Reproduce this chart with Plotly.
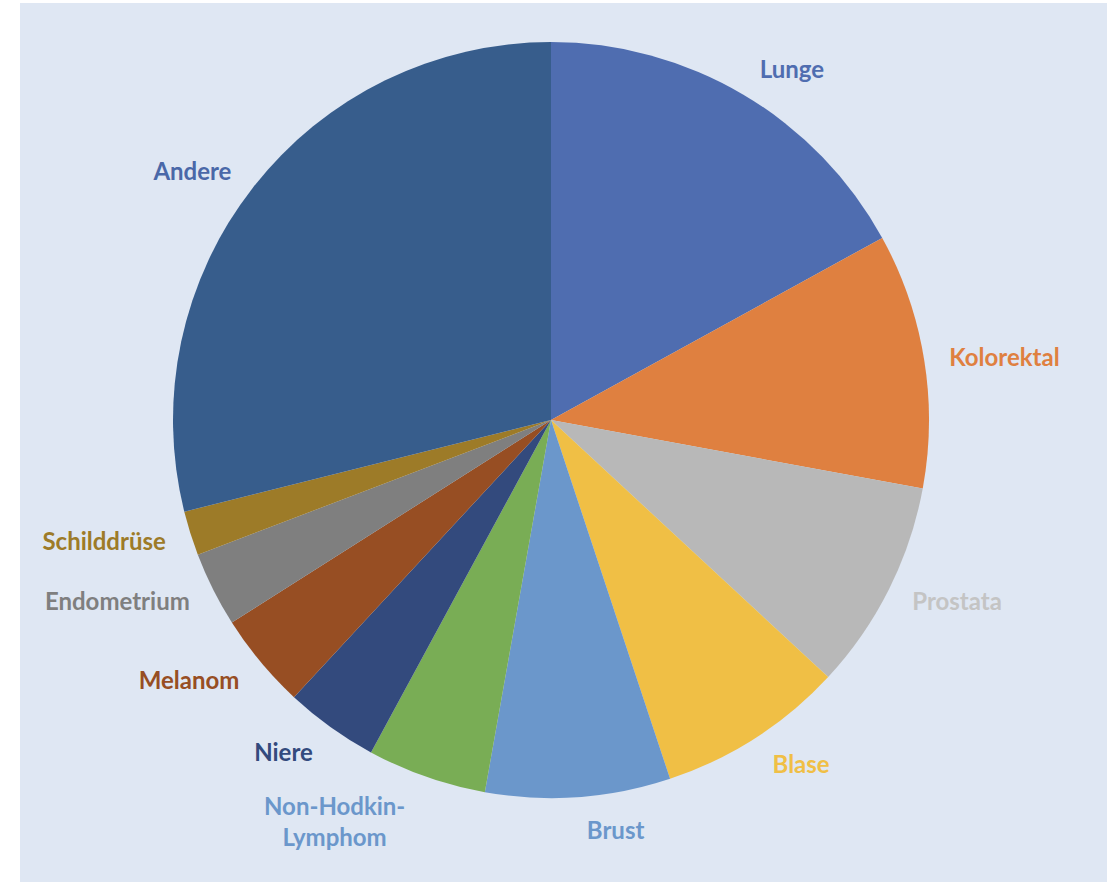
import plotly.graph_objects as go

labels = ["Lunge", "Kolorektal", "Prostata", "Blase", "Brust", "Non-Hodkin-<br>Lymphom",
          "Niere", "Melanom", "Endometrium", "Schilddrüse", "Andere"]
values = [17.0, 10.9, 9.0, 8.0, 7.9, 5.1, 4.0, 4.1, 3.2, 1.9, 28.9]
colors = ["#4f6db0", "#df8040", "#b8b8b8", "#f0bf45", "#6b97cb", "#79ad55",
          "#334a7d", "#974e23", "#7f7f7f", "#9d7b28", "#375d8c"]
text_colors = ["#4f6db0", "#df8040", "#c4c4c4", "#f0bf45", "#6b97cb", "#6b97cb",
               "#334a7d", "#974e23", "#7f7f7f", "#9d7b28", "#4a68a8"]

W, H = 1107, 882
cx, cy, R = 551, 420, 378
R_LABEL = R + 18


def dom(r):
    return dict(x=[(cx - r) / W, (cx + r) / W], y=[(H - cy - r) / H, (H - cy + r) / H])


fig = go.Figure()
# visible pie
fig.add_trace(go.Pie(
    labels=labels, values=values, sort=False, direction="clockwise", rotation=0,
    marker=dict(colors=colors, line=dict(width=0)),
    textinfo="none", automargin=False, showlegend=False,
    hoverinfo="label+percent", domain=dom(R),
))
# label carrier (transparent, slightly larger) to push outside labels outward
fig.add_trace(go.Pie(
    labels=labels, values=values, sort=False, direction="clockwise", rotation=0,
    marker=dict(colors=["rgba(0,0,0,0)"] * len(values), line=dict(width=0)),
    textinfo="label", textposition="outside",
    outsidetextfont=dict(family="Lato", size=24, weight="bold", color=text_colors),
    automargin=False, showlegend=False, hoverinfo="skip", domain=dom(R_LABEL),
))

fig.update_layout(
    width=W, height=H,
    margin=dict(l=0, r=0, t=0, b=0),
    paper_bgcolor="white",
    font=dict(family="Lato"),
    shapes=[dict(type="rect", xref="paper", yref="paper", x0=20 / W, x1=1, y0=0, y1=1 - 3 / H,
                 fillcolor="#dfe7f3", line=dict(width=0), layer="below")],
)

fig.write_html("out.html")
